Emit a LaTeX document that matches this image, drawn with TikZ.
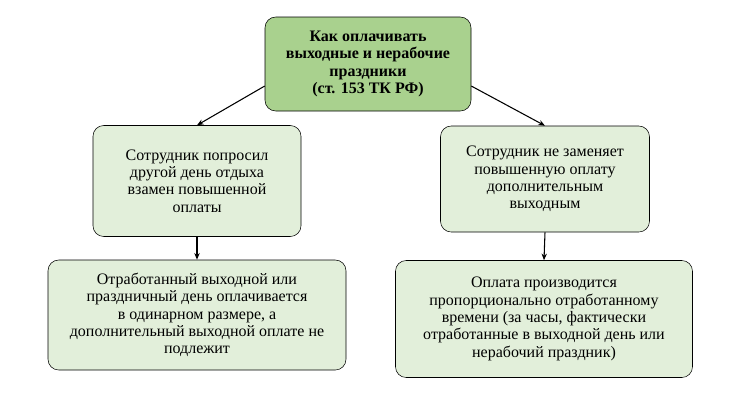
\documentclass[tikz,border=0pt]{standalone}
\usepackage{fontspec}
\usetikzlibrary{arrows.meta}
\setmainfont{Liberation Serif}
\begin{document}
\begin{tikzpicture}[x=0.75pt,y=-0.75pt,
  box/.style={draw=black,rounded corners=8pt,fill=boxg,align=center,font=\fontsize{12}{13}\selectfont,inner sep=2pt},
  arr/.style={-{Stealth[length=5pt,width=4pt]},thick}]
\definecolor{boxg}{HTML}{E2EFDA}
\definecolor{topg}{HTML}{A9D18E}
\useasboundingbox (0,0) rectangle (739,405);
\node[box,fill=topg,minimum width=206*0.75pt,minimum height=94*0.75pt,font=\bfseries\fontsize{12}{13}\selectfont] (top) at (368,64) {Как оплачивать\\выходные и нерабочие\\праздники\\(ст. 153 ТК РФ)};
\node[box,minimum width=208*0.75pt,minimum height=111*0.75pt] (l1) at (197,181) {Сотрудник попросил\\другой день отдыха\\взамен повышенной\\оплаты};
\node[box,minimum width=209*0.75pt,minimum height=106*0.75pt] (r1) at (545,179) {Сотрудник не заменяет\\повышенную оплату\\дополнительным\\выходным};
\node[box,minimum width=298*0.75pt,minimum height=110*0.75pt] (l2) at (197,315) {Отработанный выходной или\\праздничный день оплачивается\\в одинарном размере, а\\дополнительный выходной оплате не\\подлежит};
\node[box,minimum width=297*0.75pt,minimum height=117*0.75pt] (r2) at (544,319) {Оплата производится\\пропорционально отработанному\\времени (за часы, фактически\\отработанные в выходной день или\\нерабочий праздник)};
\draw[arr] ([yshift=-22*0.75pt]top.west) -- (l1.north);
\draw[arr] ([yshift=-22*0.75pt]top.east) -- (r1.north);
\draw[arr] (l1.south) -- (l2.north);
\draw[arr] (r1.south) -- (r2.north);
\end{tikzpicture}
\end{document}
